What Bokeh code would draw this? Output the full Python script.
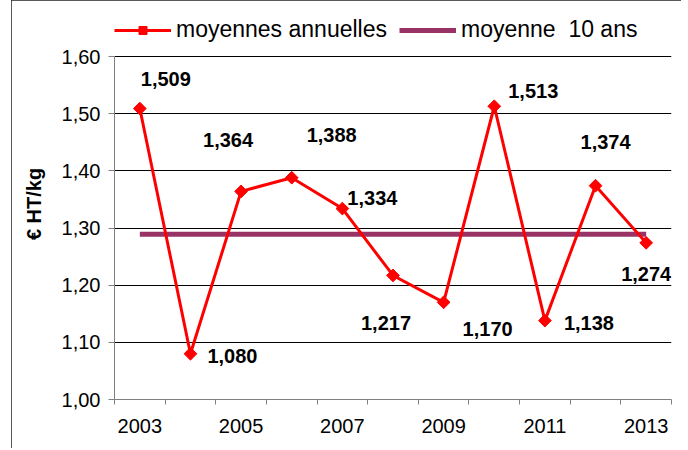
from bokeh.plotting import figure
from bokeh.models import (Range1d, FixedTicker, CustomJSTickFormatter, Legend, LegendItem,
                          ColumnDataSource, LabelSet)
from bokeh.core.properties import value
from bokeh.embed import file_html
from bokeh.resources import INLINE
import math

# ---- data ----
years = [2003, 2004, 2005, 2006, 2007, 2008, 2009, 2010, 2011, 2012, 2013]
prices = [1.509, 1.080, 1.364, 1.388, 1.334, 1.217, 1.170, 1.513, 1.138, 1.374, 1.274]
mean_10 = 1.289
y_ticks = [1.00, 1.10, 1.20, 1.30, 1.40, 1.50, 1.60]
x_label_years = [2003, 2005, 2007, 2009, 2011, 2013]

# label offsets (screen px, right / up) - placement style only
lab_dx = [26, 42, -13, 40, 30, -7, 44, 39, 44, 10, 0]
lab_dy = [30, -2, 51, 43, 11, -48, -27, 15, -2, 44, -31]

FONT = "Liberation Sans"
RED = "#FF0000"
PURPLE = "#993366"
Y_TOP_PAD = 0.084   # empty band above 1,60 that holds the legend

p = figure(
    x_range=Range1d(years[0] - 0.5, years[-1] + 0.5),
    y_range=Range1d(y_ticks[0], y_ticks[-1] + Y_TOP_PAD),
    frame_width=557, frame_height=391,
    min_border_left=103, min_border_right=10, min_border_top=8, min_border_bottom=49,
    output_backend="svg", toolbar_location=None,
    background_fill_color="white", border_fill_color="white",
)
p.styles = {"margin-left": "11px", "outline": "2px solid #222222", "outline-offset": "-2px"}
p.outline_line_color = None

# mean line
mean_r = p.line([years[0], years[-1]], [mean_10, mean_10], line_color=PURPLE, line_width=5)

# series
src = ColumnDataSource(dict(
    x=years, y=prices,
    lab=[f"{v:.3f}".replace(".", ",") for v in prices],
    dx=lab_dx, dy=lab_dy,
))
line_r = p.line("x", "y", source=src, line_color=RED, line_width=3)
scat_r = p.scatter("x", "y", source=src, marker="square", size=9, angle=math.pi / 4,
                   fill_color=RED, line_color=RED)

labels = LabelSet(x="x", y="y", text="lab", source=src, x_offset="dx", y_offset="dy",
                  text_align="center", text_baseline="middle",
                  text_font=value(FONT), text_font_size="20px", text_font_style="bold",
                  text_color="black")
p.add_layout(labels)

# axes
p.xgrid.visible = False
p.ygrid.ticker = FixedTicker(ticks=y_ticks)
p.ygrid.grid_line_color = "black"
p.ygrid.grid_line_width = 1

yax = p.yaxis[0]
yax.ticker = FixedTicker(ticks=y_ticks)
yax.bounds = (y_ticks[0], y_ticks[-1])
yax.formatter = CustomJSTickFormatter(code="return tick.toFixed(2).replace('.', ',');")
yax.axis_line_color = "#808080"
yax.major_tick_line_color = "#808080"
yax.major_tick_out = 6
yax.major_tick_in = 0
yax.minor_tick_line_color = None
yax.major_label_text_font = FONT
yax.major_label_text_font_size = "20px"
yax.major_label_text_color = "black"
yax.major_label_standoff = 8
yax.axis_label = "€ HT/kg"
yax.axis_label_text_font = FONT
yax.axis_label_text_font_size = "20px"
yax.axis_label_text_font_style = "bold"
yax.axis_label_text_color = "black"
yax.axis_label_standoff = 14

xax = p.xaxis[0]
xax.ticker = FixedTicker(ticks=x_label_years,
                         minor_ticks=[y - 0.5 for y in years] + [years[-1] + 0.5])
xax.axis_line_color = "#808080"
xax.major_tick_line_color = None
xax.major_tick_out = 0
xax.major_tick_in = 0
xax.minor_tick_line_color = "#808080"
xax.minor_tick_out = 5
xax.minor_tick_in = 0
xax.major_label_text_font = FONT
xax.major_label_text_font_size = "20px"
xax.major_label_text_color = "black"
xax.major_label_standoff = 14

legend = Legend(
    items=[LegendItem(label="moyennes annuelles", renderers=[line_r, scat_r]),
           LegendItem(label="moyenne\u00a0 10 ans", renderers=[mean_r])],
    orientation="horizontal", location=(0, 356),
    label_text_font=FONT, label_text_font_size="23px", label_text_color="black",
    glyph_width=57, glyph_height=20, label_standoff=5, spacing=12,
    padding=0, margin=0, border_line_color=None, background_fill_alpha=0,
)
p.add_layout(legend)

open("out.html", "w").write(file_html(p, INLINE))
